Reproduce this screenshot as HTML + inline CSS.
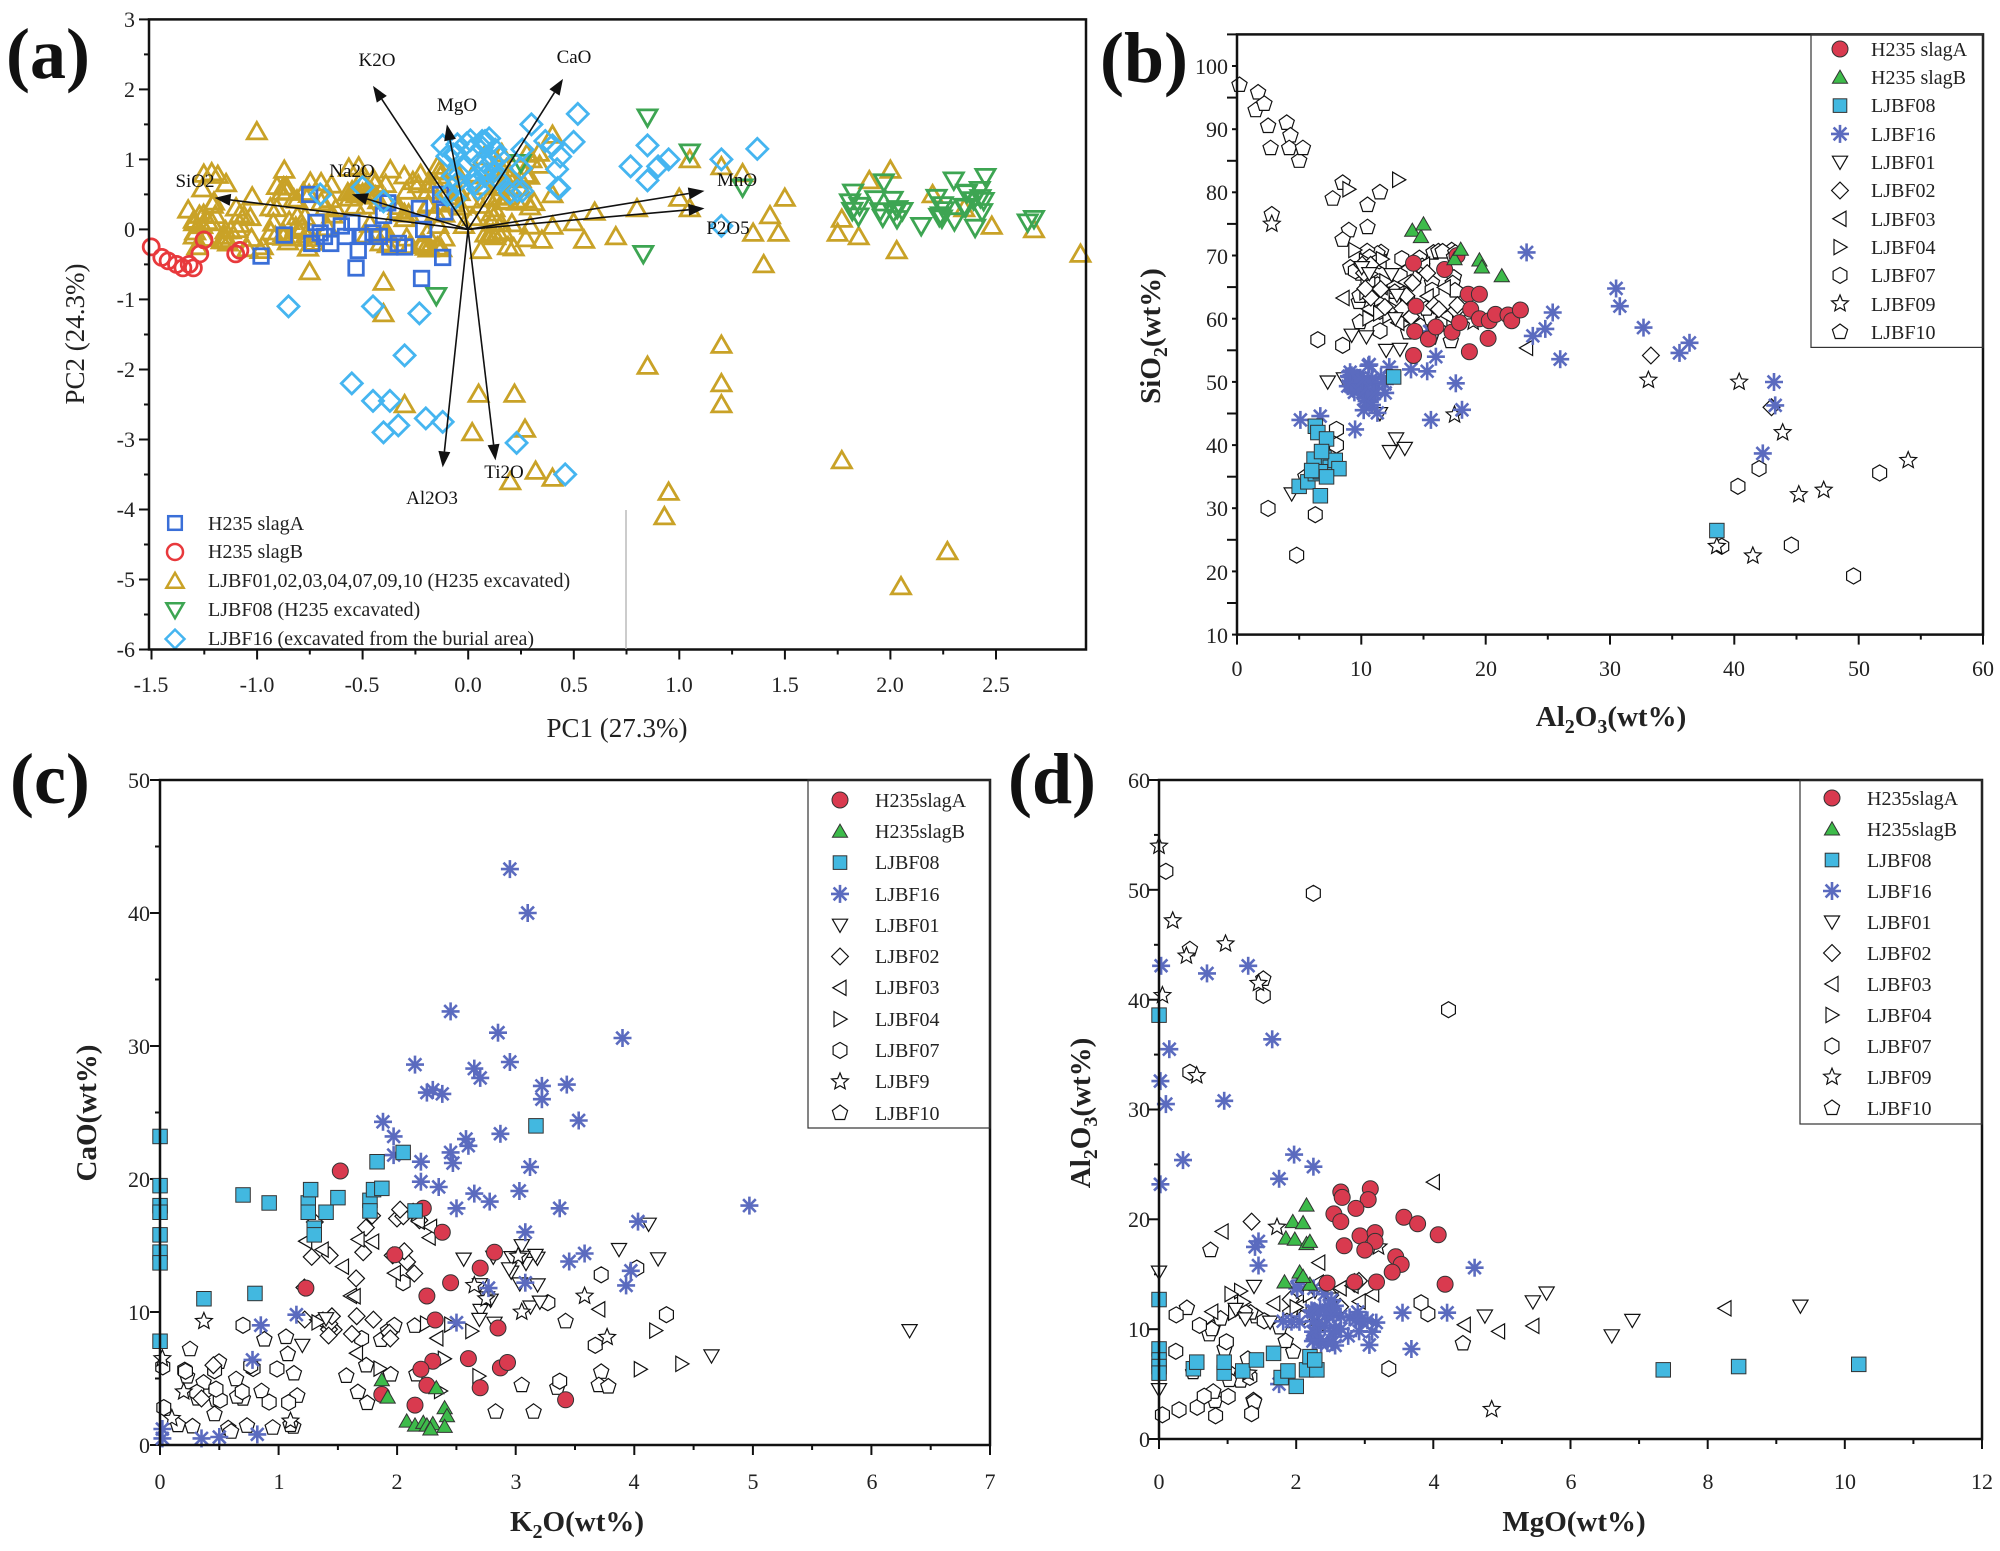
<!DOCTYPE html>
<html><head><meta charset="utf-8">
<style>
html,body{margin:0;padding:0;background:#fff;}
#wrap{position:relative;width:2000px;height:1551px;overflow:hidden;background:#fff;}
#dyn,#st{position:absolute;left:0;top:0;width:2000px;height:1551px;}
svg{display:block;font-family:"Liberation Serif",serif;}
.t{font-size:22px;fill:#222;}
.lg{font-size:20px;fill:#222;}
.pl{font-size:72px;font-weight:bold;fill:#111;}
.ab{font-size:29px;font-weight:bold;fill:#222;}
.ar{font-size:27px;fill:#222;}
.vl{font-size:19px;fill:#111;}
</style></head>
<body>
<div id="wrap">
<div id="dyn"></div>
<svg id="st" width="2000" height="1551" viewBox="0 0 2000 1551" xmlns="http://www.w3.org/2000/svg">
<g fill="none" stroke="#111" stroke-width="2.5">
<rect x="149" y="19.4" width="937" height="630.1"/>
<rect x="1237" y="34.4" width="746" height="600.2"/>
<rect x="160" y="780" width="830" height="665"/>
<rect x="1159" y="780" width="823" height="659"/>
</g>
<text class="pl" x="6" y="78">(a)</text>
<text class="pl" x="1100" y="82">(b)</text>
<text class="pl" x="10" y="803">(c)</text>
<text class="pl" x="1008" y="803">(d)</text>
<g class="t" text-anchor="end">
<text x="135" y="27">3</text><text x="135" y="97">2</text><text x="135" y="167">1</text><text x="135" y="237">0</text>
<text x="135" y="307">-1</text><text x="135" y="377">-2</text><text x="135" y="447">-3</text><text x="135" y="517">-4</text>
<text x="135" y="587">-5</text><text x="135" y="657">-6</text>
</g>
<g class="t" text-anchor="middle">
<text x="151" y="692">-1.5</text><text x="257" y="692">-1.0</text><text x="362" y="692">-0.5</text><text x="468" y="692">0.0</text>
<text x="574" y="692">0.5</text><text x="679" y="692">1.0</text><text x="785" y="692">1.5</text><text x="890" y="692">2.0</text><text x="996" y="692">2.5</text>
</g>
<text class="ar" x="617" y="737" text-anchor="middle">PC1 (27.3%)</text>
<text class="ar" transform="translate(84,334) rotate(-90)" text-anchor="middle">PC2 (24.3%)</text>
<g class="t" text-anchor="end">
<text x="1228" y="74">100</text><text x="1228" y="137">90</text><text x="1228" y="200">80</text><text x="1228" y="264">70</text>
<text x="1228" y="327">60</text><text x="1228" y="390">50</text><text x="1228" y="453">40</text><text x="1228" y="516">30</text>
<text x="1228" y="580">20</text><text x="1228" y="643">10</text>
</g>
<g class="t" text-anchor="middle">
<text x="1237" y="676">0</text><text x="1361" y="676">10</text><text x="1486" y="676">20</text><text x="1610" y="676">30</text>
<text x="1734" y="676">40</text><text x="1859" y="676">50</text><text x="1983" y="676">60</text>
</g>
<text class="ab" x="1611" y="726" text-anchor="middle">Al<tspan font-size="20" dy="7">2</tspan><tspan dy="-7">O</tspan><tspan font-size="20" dy="7">3</tspan><tspan dy="-7">(wt%)</tspan></text>
<text class="ab" transform="translate(1160,336) rotate(-90)" text-anchor="middle">SiO<tspan font-size="20" dy="7">2</tspan><tspan dy="-7">(wt%)</tspan></text>
<g class="t" text-anchor="end">
<text x="150" y="1453">0</text><text x="150" y="1320">10</text><text x="150" y="1187">20</text>
<text x="150" y="1054">30</text><text x="150" y="921">40</text><text x="150" y="788">50</text>
</g>
<g class="t" text-anchor="middle">
<text x="160" y="1489">0</text><text x="279" y="1489">1</text><text x="397" y="1489">2</text><text x="516" y="1489">3</text>
<text x="634" y="1489">4</text><text x="753" y="1489">5</text><text x="872" y="1489">6</text><text x="990" y="1489">7</text>
</g>
<text class="ab" x="577" y="1531" text-anchor="middle">K<tspan font-size="20" dy="7">2</tspan><tspan dy="-7">O(wt%)</tspan></text>
<text class="ab" transform="translate(96,1113) rotate(-90)" text-anchor="middle">CaO(wt%)</text>
<g class="t" text-anchor="end">
<text x="1150" y="1447">0</text><text x="1150" y="1337">10</text><text x="1150" y="1227">20</text>
<text x="1150" y="1117">30</text><text x="1150" y="1008">40</text><text x="1150" y="898">50</text><text x="1150" y="788">60</text>
</g>
<g class="t" text-anchor="middle">
<text x="1159" y="1489">0</text><text x="1296" y="1489">2</text><text x="1434" y="1489">4</text><text x="1571" y="1489">6</text>
<text x="1708" y="1489">8</text><text x="1845" y="1489">10</text><text x="1982" y="1489">12</text>
</g>
<text class="ab" x="1574" y="1531" text-anchor="middle">MgO(wt%)</text>
<text class="ab" transform="translate(1090,1113) rotate(-90)" text-anchor="middle">Al<tspan font-size="20" dy="7">2</tspan><tspan dy="-7">O</tspan><tspan font-size="20" dy="7">3</tspan><tspan dy="-7">(wt%)</tspan></text>
<g class="vl" text-anchor="middle">
<text x="377" y="66">K2O</text><text x="574" y="63">CaO</text><text x="457" y="111">MgO</text>
<text x="352" y="177">Na2O</text><text x="195" y="187">SiO2</text><text x="737" y="186">MnO</text>
<text x="728" y="234">P2O5</text><text x="432" y="504">Al2O3</text><text x="504" y="478">Ti2O</text>
</g>
<line x1="626" y1="510" x2="626" y2="649" stroke="#bbb" stroke-width="1.5"/>
<g class="lg">
<text x="208" y="530">H235 slagA</text>
<text x="208" y="558">H235 slagB</text>
<text x="208" y="587">LJBF01,02,03,04,07,09,10 (H235 excavated)</text>
<text x="208" y="616">LJBF08 (H235 excavated)</text>
<text x="208" y="645">LJBF16 (excavated from the burial area)</text>
</g>
<rect x="1811" y="34.4" width="172" height="313" fill="none" stroke="#333" stroke-width="1.2"/>
<g class="lg">
<text x="1871" y="56">H235 slagA</text><text x="1871" y="84">H235 slagB</text><text x="1871" y="112">LJBF08</text>
<text x="1871" y="141">LJBF16</text><text x="1871" y="169">LJBF01</text><text x="1871" y="197">LJBF02</text>
<text x="1871" y="226">LJBF03</text><text x="1871" y="254">LJBF04</text><text x="1871" y="282">LJBF07</text>
<text x="1871" y="311">LJBF09</text><text x="1871" y="339">LJBF10</text>
</g>
<rect x="808" y="780" width="182" height="348" fill="none" stroke="#333" stroke-width="1.2"/>
<g class="lg">
<text x="875" y="807">H235slagA</text><text x="875" y="838">H235slagB</text><text x="875" y="869">LJBF08</text>
<text x="875" y="901">LJBF16</text><text x="875" y="932">LJBF01</text><text x="875" y="963">LJBF02</text>
<text x="875" y="994">LJBF03</text><text x="875" y="1026">LJBF04</text><text x="875" y="1057">LJBF07</text>
<text x="875" y="1088">LJBF9</text><text x="875" y="1120">LJBF10</text>
</g>
<rect x="1800" y="780" width="182" height="344" fill="none" stroke="#333" stroke-width="1.2"/>
<g class="lg">
<text x="1867" y="805">H235slagA</text><text x="1867" y="836">H235slagB</text><text x="1867" y="867">LJBF08</text>
<text x="1867" y="898">LJBF16</text><text x="1867" y="929">LJBF01</text><text x="1867" y="960">LJBF02</text>
<text x="1867" y="991">LJBF03</text><text x="1867" y="1022">LJBF04</text><text x="1867" y="1053">LJBF07</text>
<text x="1867" y="1084">LJBF09</text><text x="1867" y="1115">LJBF10</text>
</g>
</svg>
</div>
<script>
(function(){
var out=[];
var seed=12345;
function rnd(){seed=(seed*16807)%2147483647;return (seed-1)/2147483646;}
function gs(){return (rnd()+rnd()+rnd()-1.5)/1.5;}
function f(v){return (Math.round(v*10)/10).toString();}
function poly(cx,cy,r,n,rot){var p=[];for(var i=0;i<n;i++){var a=rot+i*2*Math.PI/n;p.push(f(cx+r*Math.cos(a))+","+f(cy+r*Math.sin(a)));}return p.join(" ");}
function star(cx,cy,r){var p=[];for(var i=0;i<10;i++){var rr=(i%2)?r*0.45:r;var a=-Math.PI/2+i*Math.PI/5;p.push(f(cx+rr*Math.cos(a))+","+f(cy+rr*Math.sin(a)));}return p.join(" ");}
function mk(t,x,y,r,fill,st,sw){
 x=Number(x);y=Number(y);r=Number(r);
 var a=' fill="'+fill+'" stroke="'+st+'" stroke-width="'+sw+'"';
 if(t==='o')return '<circle cx="'+f(x)+'" cy="'+f(y)+'" r="'+r+'"'+a+'/>';
 if(t==='s'){var h=r*0.85;return '<rect x="'+f(x-h)+'" y="'+f(y-h)+'" width="'+f(2*h)+'" height="'+f(2*h)+'"'+a+'/>';}
 if(t==='^')return '<polygon points="'+poly(x,y+r*0.2,r*1.1,3,-Math.PI/2)+'"'+a+'/>';
 if(t==='v')return '<polygon points="'+poly(x,y-r*0.2,r*1.1,3,Math.PI/2)+'"'+a+'/>';
 if(t==='<')return '<polygon points="'+poly(x+r*0.2,y,r*1.1,3,Math.PI)+'"'+a+'/>';
 if(t==='>')return '<polygon points="'+poly(x-r*0.2,y,r*1.1,3,0)+'"'+a+'/>';
 if(t==='d')return '<polygon points="'+poly(x,y,r*1.05,4,0)+'"'+a+'/>';
 if(t==='h')return '<polygon points="'+poly(x,y,r,6,Math.PI/2)+'"'+a+'/>';
 if(t==='p')return '<polygon points="'+poly(x,y,r,5,-Math.PI/2)+'"'+a+'/>';
 if(t==='*')return '<polygon points="'+star(x,y,r*1.1)+'"'+a+'/>';
 if(t==='x'){var s='';for(var k=0;k<4;k++){var an=k*Math.PI/4;var dx=r*Math.sin(an),dy=r*Math.cos(an);s+='<line x1="'+f(x-dx)+'" y1="'+f(y-dy)+'" x2="'+f(x+dx)+'" y2="'+f(y+dy)+'" stroke="'+st+'" stroke-width="'+sw+'"/>';}return s;}
 return '';
}
function P(X,Y){return function(t,pts,fill,st,sw,r){for(var i=0;i<pts.length;i++)out.push(mk(t,X(pts[i][0]),Y(pts[i][1]),r,fill,st,sw));};}
function cl(n,x0,x1,y0,y1){var a=[];for(var i=0;i<n;i++)a.push([x0+(x1-x0)*rnd(),y0+(y1-y0)*rnd()]);return a;}
function cg(n,mx,sx,my,sy){var a=[];for(var i=0;i<n;i++)a.push([mx+sx*gs(),my+sy*gs()]);return a;}
try{
// ticks
function tx(x0,x1,n,y,len){for(var i=0;i<=n;i++){var x=x0+(x1-x0)*i/n;out.push('<line x1="'+f(x)+'" y1="'+y+'" x2="'+f(x)+'" y2="'+(y+((i%2)?len/2:len))+'" stroke="#111" stroke-width="2"/>');}}
function ty(y0,y1,n,x,len){for(var i=0;i<=n;i++){var y=y0+(y1-y0)*i/n;out.push('<line x1="'+x+'" y1="'+f(y)+'" x2="'+(x-((i%2)?len/2:len))+'" y2="'+f(y)+'" stroke="#111" stroke-width="2"/>');}}
tx(151.5,996,16,649.5,10);ty(19.4,649.5,18,149,10);
tx(1237,1983,12,634.6,10);ty(34.4,634.6,19,1237,10);
tx(160,990,14,1445,10);ty(780,1445,10,160,10);
tx(1159,1982,12,1439,10);ty(780,1439,12,1159,10);

var A=P(function(v){return 468+211.2*v;},function(v){return 229.4-70*v;});
var GO="#c9a227",BL="#3a6fd8",RD="#e8393c",GR="#3da552",LB="#45b5f0",K="#111";
var gold=[[-1,1.4],[-0.87,0.85],[-0.75,-0.6],[-0.4,-0.75],[-0.4,-1.2],[-0.3,-2.5],[0.05,-2.35],[0.02,-2.9],[0.22,-2.35],[0.27,-2.85],[0.4,-3.55],[0.2,-3.6],[0.32,-3.45],[0.85,-1.95],[0.93,-4.1],[0.95,-3.75],[1.2,-1.65],[1.2,-2.2],[1.2,-2.5],[1.77,-3.3],[2.27,-4.6],[2.05,-5.1],[2.9,-0.35],[1.4,-0.5],[2.03,-0.3],[0.8,0.3],[1.0,0.45],[1.05,0.3],[1.3,0.8],[1.43,0.2],[1.47,-0.05],[1.5,0.45],[1.75,-0.05],[1.77,0.15],[1.85,-0.1],[1.9,0.7],[2.0,0.85],[2.2,0.5],[2.35,0.3],[2.48,0.05],[2.68,0],[0.5,0.1],[0.4,0.05],[0.6,0.25],[0.55,-0.15],[0.35,-0.15],[0.4,0.5],[0.25,0.6],[0.4,1.35],[0.3,1.0],[0.15,0.7],[1.05,1.0],[1.2,0.9],[-0.2,-0.25],[0.7,-0.1],[1.35,-0.05]];
gold=gold.concat(cl(140,-1.3,0.3,-0.3,0.85),cl(40,-0.6,0.4,0.3,1.1),cl(15,-1.35,-0.9,-0.3,0.4));
A('^',gold,"none",GO,2.8,10);
A('s',[[-0.98,-0.38],[-0.87,-0.08],[-0.75,0.5],[-0.74,-0.2],[-0.72,0.1],[-0.68,-0.1],[-0.65,-0.2],[-0.58,-0.1],[-0.53,-0.55],[-0.52,-0.3],[-0.5,-0.1],[-0.45,-0.05],[-0.42,-0.1],[-0.38,0.38],[-0.37,-0.25],[-0.33,-0.2],[-0.23,0.3],[-0.22,-0.7],[-0.21,0],[-0.13,0.5],[-0.12,-0.4],[-0.11,0.25],[-0.3,-0.25],[-0.6,0.05],[-0.4,0.2],[-0.7,-0.05],[-0.55,0.1]],"none",BL,2.8,8.5);
A('o',[[-1.5,-0.25],[-1.45,-0.4],[-1.42,-0.45],[-1.38,-0.5],[-1.35,-0.55],[-1.32,-0.5],[-1.3,-0.55],[-1.27,-0.35],[-1.25,-0.15],[-1.1,-0.35],[-1.08,-0.3]],"none",RD,2.8,8);
A('v',[[0.85,1.6],[0.83,-0.35],[-0.15,-0.95],[0.25,0.95],[1.05,1.1],[1.3,0.6],[2.68,0.15],[2.65,0.1],[2.45,0.75],[2.3,0.7]].concat(cl(32,1.8,2.45,0.0,0.7)),"none",GR,2.8,10);
A('d',[[-0.85,-1.1],[-0.45,-1.1],[-0.23,-1.2],[-0.3,-1.8],[-0.55,-2.2],[-0.45,-2.45],[-0.37,-2.45],[-0.4,-2.9],[-0.33,-2.8],[-0.2,-2.7],[-0.12,-2.75],[0.23,-3.05],[0.46,-3.5],[0.77,0.9],[0.85,1.2],[0.9,0.9],[0.95,1.0],[0.85,0.7],[1.2,1.0],[1.37,1.15],[1.2,0.05],[0.52,1.65],[0.3,1.5],[0.4,1.2],[0.5,1.25],[0.1,1.3],[-0.12,1.2],[-0.7,0.5],[-0.5,0.6],[-0.4,0.4]].concat(cl(38,-0.1,0.45,0.4,1.3)),"none",LB,2.8,10);
// arrows
var ar=[[-1.2,0.45],[-0.55,0.5],[-0.45,2.05],[-0.1,1.5],[0.45,2.15],[1.12,0.55],[1.12,0.3],[-0.12,-3.4],[0.13,-3.3]];
for(var j=0;j<ar.length;j++){
 var ex=468+211.2*ar[j][0],ey=229.4-70*ar[j][1];
 var dx=ex-468,dy=ey-229.4,L=Math.sqrt(dx*dx+dy*dy),ux=dx/L,uy=dy/L;
 var bx=ex-ux*16,by=ey-uy*16;
 out.push('<line x1="468" y1="229.4" x2="'+f(bx)+'" y2="'+f(by)+'" stroke="#111" stroke-width="1.6"/>');
 out.push('<polygon points="'+f(ex)+','+f(ey)+' '+f(bx-uy*6)+','+f(by+ux*6)+' '+f(bx+uy*6)+','+f(by-ux*6)+'" fill="#111"/>');
}
// panel B
var B=P(function(v){return 1237+12.43*v;},function(v){return 66+(100-v)*6.32;});
B('p',[[0.2,97],[1.7,95.8],[1.5,93],[2.2,94],[2.5,90.5],[4,91],[4.3,89],[4.2,87],[2.7,87],[5,85],[5.3,87],[7.7,79],[8.5,81.5],[10.5,78],[11.5,80],[2.8,76.5],[9,74],[10.5,74.5],[8.5,72.5],[5.5,35]].concat(cl(35,9,18,55,72)),"#fff",K,1.2,8);
B('h',[[6.5,56.7],[8.5,55.8],[2.5,30],[6.3,29],[4.8,22.6],[40.3,33.5],[42,36.3],[44.6,24.2],[49.6,19.3],[51.7,35.6],[39,24],[7.3,36],[8,42.5],[8,40]].concat(cl(12,9,16,58,70)),"#fff",K,1.2,8);
B('<',cl(14,8.5,17,58,70).concat([[23.3,55.4]]),"#fff",K,1.2,8);
B('>',cl(10,9,16,60,72).concat([[13,82],[9,80.5]]),"#fff",K,1.2,8);
B('d',cl(16,9,18,60,70).concat([[33.3,54.2],[43,46]]),"#fff",K,1.2,8);
B('v',[[7.3,50],[8.6,50.5],[11.5,45],[12.3,39],[12.8,41],[13.5,39.5],[4.4,32.3],[12,55]].concat(cl(8,9,14,55,70)),"#fff",K,1.2,8);
B('*',[[2.8,75],[17.5,44.8],[33.1,50.3],[40.4,50],[43.9,42],[45.2,32.2],[47.2,32.9],[41.5,22.5],[38.6,24],[54,37.6],[19,59.5]],"#fff",K,1.2,8);
B('x',[[5.1,44],[6.7,44.6],[23.3,70.5],[30.5,64.8],[30.8,62],[32.7,58.6],[35.6,54.6],[36.4,56.2],[25.4,61],[23.8,57.3],[24.8,58.4],[26,53.6],[15.6,44],[17.6,49.8],[18.1,45.6],[15.3,51.7],[16,54],[43.2,50],[43.3,46.3],[42.3,38.7],[9.5,42.5],[15.5,58],[14,52]].concat(cg(40,10.5,3,49,6)),"none","#5b6bbf",2.6,9);
B('o',[[14.2,68.8],[14.4,62],[14.3,58],[14.2,54.2],[15.4,56.8],[16,58.7],[16.7,67.8],[17.3,57.9],[17.9,59.4],[18.6,63.9],[18.8,61.5],[18.7,54.8],[17.7,70],[19.5,63.9],[19.5,60],[20.2,56.9],[20.3,59.7],[20.8,60.7],[21.8,60.6],[22.1,59.7],[22.8,61.4]],"#d93a4f","#333",1,8);
B('^',[[14.1,74],[14.8,73],[15,75],[17.5,69.5],[18,71],[19.5,69.3],[19.7,68.2],[21.3,66.8]],"#3dbb4a","#333",1,8);
B('s',[[6.3,43],[6.5,42],[7.2,41],[12.6,50.8],[5,33.5],[5.7,34.2],[6.3,35.5],[6.5,36.5],[6.7,32],[7,38],[6.2,37.8],[7.5,36.5],[7.9,37.6],[8.2,36.3],[6.7,35.8],[7.2,35],[38.6,26.5],[6,36],[6.8,39]],"#42b8e0","#333",1,8.5);
// panel C
var C=P(function(v){return 160+118.6*v;},function(v){return 1445-13.3*v;});
C('p',cl(22,0,1.2,1,9).concat([[3.42,9.3],[3.15,2.5],[2.83,2.5],[3.72,5.5],[3.7,4.5],[3.78,4.4],[3.35,4.3],[3.05,4.5],[1.1,1.5],[0.95,1.3]]).concat(cl(10,1.3,2.2,3,9)),"#fff",K,1.2,8);
C('h',cl(14,0,1.1,2,6).concat([[0.7,9],[4.27,9.8],[3.67,7.5],[3.72,12.8],[4.02,13.3],[3.37,4.8],[3.27,10.7],[1.7,8],[2.05,12.2]]),"#fff",K,1.2,8);
C('d',cl(28,1.2,2.2,8,18).concat([[0.35,3.5],[0.45,6]]),"#fff",K,1.2,8);
C('<',cl(14,1.2,2.4,6,17).concat([[3.7,10.2]]),"#fff",K,1.2,8);
C('>',cl(8,1.3,3,3,10).concat([[4.4,6.1],[4.05,5.7],[4.18,8.6]]),"#fff",K,1.2,8);
C('v',cl(20,2.5,3.3,9,15).concat([[6.32,8.6],[4.65,6.7],[4.2,14],[3.87,14.7],[4.12,16.6],[1.2,7.5],[1.4,9.5]]),"#fff",K,1.2,8);
C('*',[[3.77,8.1],[3.58,11.2],[3.05,10],[3.02,14.2],[0.37,9.3],[2.65,12],[2.75,11],[0.2,4],[0.1,2],[1.1,1.8],[0.02,6.5]],"#fff",K,1.2,8);
C('x',[[2.95,43.3],[3.1,40],[2.45,32.6],[2.85,31],[3.9,30.6],[2.95,28.8],[2.15,28.6],[2.65,28.3],[2.7,27.6],[2.25,26.5],[2.3,26.7],[2.38,26.4],[3.22,27],[3.43,27.1],[3.22,26],[3.53,24.4],[1.88,24.3],[1.97,23.2],[1.97,21.8],[2.58,23],[2.6,22.5],[2.45,22],[2.47,21.2],[2.87,23.4],[2.2,21.3],[2.2,19.8],[2.35,19.4],[2.5,17.8],[2.65,18.9],[2.78,18.3],[3.03,19.1],[3.12,20.9],[3.37,17.8],[3.08,16],[4.03,16.8],[4.97,18],[3.45,13.8],[3.58,14.4],[3.93,12],[3.97,13.1],[3.08,12.2],[2.77,11.8],[2.5,9.2],[1.15,9.8],[0.85,9],[0.78,6.4],[0.82,0.8],[0.5,0.6],[0.35,0.5],[0.02,0.5],[0.02,1.2]],"none","#5b6bbf",2.6,9);
C('o',[[1.52,20.6],[2.22,17.8],[2.38,16],[1.98,14.3],[1.23,11.8],[2.25,11.2],[2.45,12.2],[2.7,13.3],[2.82,14.5],[2.32,9.4],[2.85,8.8],[2.6,6.5],[2.3,6.3],[2.2,5.7],[2.25,4.5],[2.15,3],[1.87,3.8],[2.7,4.3],[2.87,5.8],[2.93,6.2],[3.42,3.4]],"#d93a4f","#333",1,8);
C('^',[[1.87,4.9],[1.92,3.6],[2.08,1.8],[2.15,1.5],[2.22,1.7],[2.25,1.5],[2.3,1.6],[2.33,4.3],[2.4,2.8],[2.42,2.2],[2.4,1.4],[2.28,1.2]],"#3dbb4a","#333",1,8);
C('s',[[0,23.2],[0,19.5],[0,18],[0,17.5],[0,15.8],[0,14.5],[0,13.7],[0,7.8],[0.7,18.8],[0.92,18.2],[1.25,18.2],[1.27,19.2],[1.25,17.5],[1.3,16.3],[1.3,15.8],[1.4,17.5],[1.5,18.6],[1.77,18.4],[1.8,19.2],[1.77,17.6],[1.83,21.3],[1.87,19.3],[2.05,22],[2.15,17.6],[3.17,24],[0.37,11],[0.8,11.4]],"#42b8e0","#333",1,8.5);
// panel D
var D=P(function(v){return 1159+68.6*v;},function(v){return 1439-10.98*v;});
D('p',cl(22,0.3,2,3,12).concat([[0.45,44.6],[1.52,41.9],[0.75,17.2],[0.77,10],[4.43,8.7]]),"#fff",K,1.2,8);
D('h',cl(10,0.2,1.8,2,11).concat([[0.1,51.7],[2.25,49.7],[4.22,39.1],[1.52,40.4],[0.45,33.4],[1.35,2.3],[3.35,6.4],[3.92,11.4],[3.82,12.4],[0.25,11.3],[0.05,2.2]]),"#fff",K,1.2,8);
D('d',cl(8,1.5,3,10,16).concat([[1.35,19.8]]),"#fff",K,1.2,8);
D('<',cl(8,1.6,3.2,11,17).concat([[0.92,18.9],[4.0,23.4],[8.25,11.9],[4.45,10.4],[4.95,9.8],[5.45,10.3],[0.77,11.6]]),"#fff",K,1.2,8);
D('>',cl(6,1,2.5,10,15).concat([[1.05,13.2]]),"#fff",K,1.2,8);
D('v',cl(6,1,2.5,8,14).concat([[9.35,12.1],[6.6,9.4],[6.9,10.8],[4.75,11.2],[5.45,12.5],[5.65,13.3],[0,15.2],[0,4.5]]),"#fff",K,1.2,8);
D('*',[[0,54],[0.2,47.2],[0.97,45.1],[0.4,44],[0.05,40.4],[0.55,33.1],[1.45,41.5],[1.72,19.3],[4.85,2.7],[1.3,6],[3.2,17.5]],"#fff",K,1.2,8);
D('x',[[0.03,43.1],[0.7,42.4],[1.3,43.1],[0.15,35.5],[0.02,32.6],[0.1,30.5],[0.95,30.8],[1.65,36.4],[0.35,25.4],[0.02,23.2],[1.97,25.9],[2.25,24.8],[1.75,23.7],[1.4,17.5],[1.45,15.8],[1.45,18],[3.68,8.2],[4.2,11.5],[4.6,15.6],[3.55,11.5],[1.75,5]].concat(cl(32,2.2,3.2,8.5,12),cl(15,1.8,2.7,10,15)),"none","#5b6bbf",2.6,9);
D('o',[[2.65,22.5],[2.67,22],[3.08,22.8],[3.05,21.8],[2.87,21],[2.55,20.5],[2.65,19.8],[3.57,20.2],[3.77,19.6],[4.07,18.6],[2.93,18.5],[3.15,18.8],[3.15,18],[3.0,17.2],[2.7,17.6],[3.45,16.6],[3.53,15.9],[3.4,15.2],[3.17,14.3],[2.85,14.3],[2.45,14.2],[4.17,14.1]],"#d93a4f","#333",1,8);
D('^',[[2.15,21.3],[1.95,19.8],[2.1,19.7],[1.85,18.3],[1.98,18.2],[2.15,17.8],[2.2,18],[2.05,15.2],[1.83,14.3],[2.2,14.1],[2.1,14.8]],"#3dbb4a","#333",1,8);
D('s',[[0,38.6],[0,12.7],[0,8.2],[0,7.2],[0,6.6],[0,6],[0.5,6.4],[0.55,7],[0.95,6],[0.95,7],[1.22,6.2],[1.42,7.2],[1.67,7.8],[1.78,5.6],[1.88,6.2],[2.0,4.8],[2.15,6.3],[2.2,7.5],[2.3,6.3],[2.27,7.2],[7.35,6.3],[8.45,6.6],[10.2,6.8]],"#42b8e0","#333",1,8.5);
// legend backgrounds (white) then markers
out.push('<rect x="1811" y="34.4" width="172" height="313" fill="#fff"/>');
out.push('<rect x="808" y="780" width="182" height="348" fill="#fff"/>');
out.push('<rect x="1800" y="780" width="182" height="344" fill="#fff"/>');
var la=[['s',"none",BL,2.5,8],['o',"none",RD,2.5,8],['^',"none",GO,2.5,9],['v',"none",GR,2.5,9],['d',"none",LB,2.5,9]];
var ay=[523,552,581,610,639];
for(var i=0;i<5;i++)out.push(mk(la[i][0],175,ay[i],la[i][4],la[i][1],la[i][2],la[i][3]));
var LL=[['o',"#d93a4f","#333",1,8],['^',"#3dbb4a","#333",1,8],['s',"#42b8e0","#333",1,8],['x',"none","#5b6bbf",2.6,9],['v',"#fff",K,1.2,8],['d',"#fff",K,1.2,8],['<',"#fff",K,1.2,8],['>',"#fff",K,1.2,8],['h',"#fff",K,1.2,8],['*',"#fff",K,1.2,8],['p',"#fff",K,1.2,8]];
function leg(x,y0,dy){for(var i=0;i<11;i++){var m=LL[i];out.push(mk(m[0],x,y0+i*dy,m[4],m[1],m[2],m[3]));}}
leg(1840,49,28.3);leg(840,800,31.3);leg(1832,798,31);
}catch(e){}
document.getElementById('dyn').innerHTML='<svg width="2000" height="1551" viewBox="0 0 2000 1551" xmlns="http://www.w3.org/2000/svg">'+out.join('')+'</svg>';
})();
</script>
</body></html>
